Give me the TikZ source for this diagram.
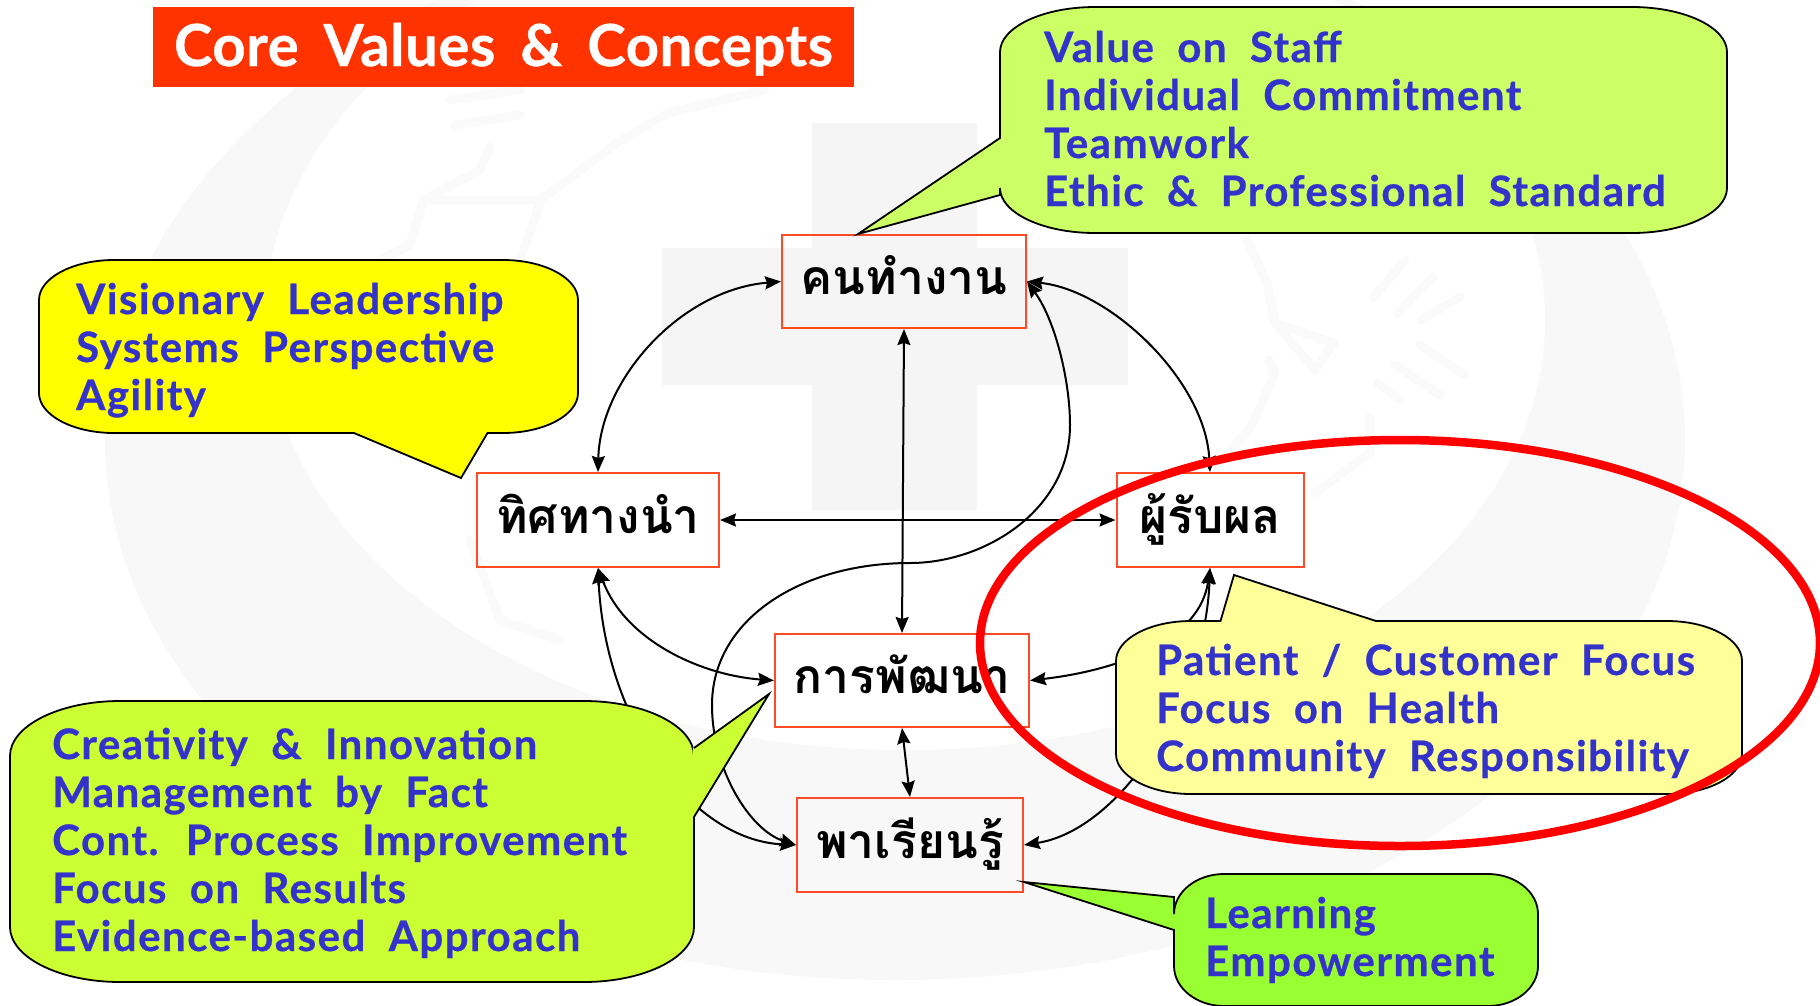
\documentclass[tikz,border=0pt]{standalone}
\usepackage{fontspec}
\usetikzlibrary{arrows.meta}
\setmainfont{Lato}
\newfontfamily\thaifont[Script=Thai]{Loma}
\newfontfamily\bubblefont[LetterSpace=3.5,WordSpace=2.0,BoldFeatures={FakeBold=0.6}]{Lato}
\newfontfamily\headfont[LetterSpace=1,WordSpace=1.7,BoldFeatures={FakeBold=0.6}]{Lato}
\definecolor{txtblue}{RGB}{51,51,204}
\definecolor{boxred}{RGB}{255,75,38}
\definecolor{titlered}{RGB}{255,51,0}
\definecolor{ringred}{RGB}{255,0,0}
\definecolor{wm}{RGB}{248,248,248}
\definecolor{wmstroke}{RGB}{250,250,250}
\definecolor{wmcross}{RGB}{245,245,245}
\definecolor{byellow}{RGB}{255,255,0}
\definecolor{bgreenA}{RGB}{204,255,102}
\definecolor{bgreenB}{RGB}{204,255,51}
\definecolor{bpale}{RGB}{255,255,153}
\definecolor{bgreenC}{RGB}{153,255,51}
\newcommand{\calloutpath}[9]{% x1 y1 x2 y2 rx ry top-tail bottom-tail left-tail
  ({#1+#5},#2) #7 -- ({#3-#5},#2)
  .. controls ({#3-0.45*#5},#2) and (#3,{#2+0.45*#6}) .. (#3,{#2+#6})
  -- (#3,{#4-#6})
  .. controls (#3,{#4-0.45*#6}) and ({#3-0.45*#5},#4) .. ({#3-#5},#4)
  #8 -- ({#1+#5},#4)
  .. controls ({#1+0.45*#5},#4) and (#1,{#4-0.45*#6}) .. (#1,{#4-#6})
  #9 -- (#1,{#2+#6})
  .. controls (#1,{#2+0.45*#6}) and ({#1+0.45*#5},#2) .. ({#1+#5},#2) -- cycle}
\newcommand{\lines}[1]{\fontsize{42}{48}\selectfont\begin{tabular}[t]{@{}l@{}}#1\end{tabular}}
\tikzset{
  x=1pt,y=-1pt,
  conceptbox/.style={draw=boxred,line width=2pt,inner sep=0pt,text height=30pt,text depth=4pt,font=\thaifont\bfseries\fontsize{48}{50}\selectfont},
  link/.style={{Stealth[length=16pt,width=13pt,inset=2pt]}-{Stealth[length=16pt,width=13pt,inset=2pt]},line width=2pt,black},
  bubble/.style={draw=black,line width=1.8pt},
  bubbletext/.style={anchor=base west,inner sep=0pt,text=txtblue,font=\bubblefont\bfseries},
  faint/.style={draw=wmstroke,line width=9pt,line cap=round,line join=round},
}
\begin{document}
\begin{tikzpicture}
\useasboundingbox (0,0) rectangle (1820,1005);
\clip (0,0) rectangle (1820,1005);
% faint background
\fill[wm,even odd rule] (895,440) ellipse [x radius=790,y radius=540] (905,320) ellipse [x radius=640,y radius=430];
\fill[wmcross] (812,123) -- (977,123) -- (977,248) -- (1128,248) -- (1128,385) -- (977,385) -- (977,510) -- (812,510) -- (812,385) -- (662,385) -- (662,248) -- (812,248) -- cycle;
\draw[faint] (490,147) -- (480,170) -- (423,200) -- (541,200) -- (617,143) -- (668,113) -- (765,90);
\draw[faint] (423,200) -- (410,245) -- (380,260);
\draw[faint] (541,200) -- (520,260);
\draw[faint] (450,100) -- (520,90) (455,125) -- (520,115);
\draw[faint] (1247,240) -- (1267,283) -- (1275,323) -- (1315,370) -- (1334,343) -- (1275,323);
\draw[faint] (1374,297) -- (1405,260) (1398,313) -- (1433,277) (1421,320) -- (1460,297);
\draw[faint] (1378,383) -- (1400,400) (1395,365) -- (1440,395) (1420,345) -- (1465,375);
\draw[faint] (1269,360) -- (1275,373) -- (1251,427) -- (1216,467);
\draw[faint] (1370,417) -- (1370,453) -- (1315,493);
\draw[faint] (470,540) -- (500,620) -- (560,640);
% title
\node[fill=titlered,minimum width=701pt,minimum height=80pt,inner sep=0pt,text=white,text height=44pt,text depth=6pt,font=\headfont\bfseries\fontsize{58}{60}\selectfont] (title) at (503.5,47) {Core Values \& Concepts};
% concept boxes
\node[conceptbox,minimum width=244pt,minimum height=93pt] (staff) at (904,281.5) {คนทำงาน};
\node[conceptbox,minimum width=242pt,minimum height=94pt] (lead) at (598,520) {ทิศทางนำ};
\node[conceptbox,minimum width=187pt,minimum height=94pt] (cust) at (1210,520) {ผู้รับผล};
\node[conceptbox,minimum width=254pt,minimum height=93pt] (dev) at (902,680.5) {การพัฒนา};
\node[conceptbox,minimum width=226pt,minimum height=94pt] (learn) at (910,845) {พาเรียนรู้};
% connectors
\draw[link] (staff.west) .. controls (680,290) and (600,380) .. (lead.north);
\draw[link] (staff.east) .. controls (1110,290) and (1205,380) .. (cust.north);
\draw[link] (staff.south) -- (dev.north);
\draw[link] (lead.east) -- (cust.west);
\draw[link] (lead.south) .. controls (625,640) and (700,675) .. (dev.west);
\draw[link] (dev.south) -- (learn.north);
\draw[link] (cust.south) .. controls (1200,640) and (1120,670) .. (dev.east);
\draw[link] (cust.south) .. controls (1205,700) and (1120,830) .. (learn.east);
\draw[link] (lead.south) .. controls (605,720) and (690,840) .. (learn.west);
\draw[link] (staff.east) .. controls (1055,320) and (1070,380) .. (1070,425)
   .. controls (1070,510) and (985,563) .. (910,563)
   .. controls (800,563) and (712,620) .. (712,705)
   .. controls (712,770) and (750,830) .. (learn.west);
% callouts
\draw[bubble,fill=byellow] \calloutpath{39}{260}{578}{433}{75}{40}{}{-- (487.5,433) -- (461,478) -- (354,433)}{};
\node[bubbletext] (t1) at (76,314) {\lines{Visionary Leadership\\Systems Perspective\\Agility}};
\draw[bubble,fill=bgreenA] \calloutpath{1000}{7}{1727}{233}{95}{45}{}{}{-- (1000,195) -- (858,234) -- (1000,138)};
\node[bubbletext] (t2) at (1044,62) {\lines{Value on Staff\\Individual Commitment\\Teamwork\\Ethic \& Professional Standard}};
\draw[bubble,fill=bgreenB] \calloutpath{10}{701}{694}{982}{110}{55}{}{}{};
\fill[bgreenB] (693,748) -- (769,694) -- (693,817) -- cycle;
\draw[line width=1.8pt] (694,748) -- (769,694) -- (694,817);
\node[bubbletext] (t3) at (52,759) {\lines{Creativity \& Innovation\\Management by Fact\\Cont. Process Improvement\\Focus on Results\\Evidence-based Approach}};
\draw[bubble,fill=bpale] \calloutpath{1116}{621}{1742}{794}{75}{40}{-- (1220.5,621) -- (1234,575) -- (1376,621)}{}{};
\node[bubbletext] (t4) at (1156,675) {\lines{Patient / Customer Focus\\Focus on Health\\Community Responsibility}};
\draw[bubble,fill=bgreenC] \calloutpath{1174}{874}{1538}{1006}{50}{40}{}{}{-- (1174,930) -- (1024,882) -- (1174,897)};
\node[bubbletext] (t5) at (1205,928) {\lines{Learning\\Empowerment}};
% red emphasis ellipse
\draw[ringred,line width=8.5pt] (1400,643) ellipse [x radius=420,y radius=203];
\end{tikzpicture}
\end{document}
